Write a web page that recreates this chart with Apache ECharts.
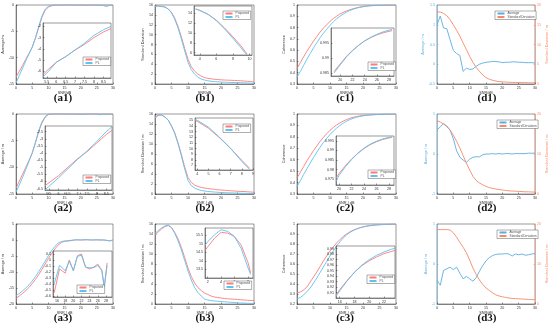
<!DOCTYPE html>
<html><head><meta charset="utf-8">
<script src="https://cdn.jsdelivr.net/npm/echarts@6/dist/echarts.min.js"></script>
<style>html,body{margin:0;padding:0;background:#fff}#c{width:550px;height:331px}</style>
</head><body><div id="c"></div>
<script>
// ---------- DATA ----------
const snr = [0,1,2,3,4,5,6,7,8,9,10,11,12,13,14,15,16,17,18,19,20,21,22,23,24,25,26,27,28,29,30];
const seriesNames = ['Proposed', 'PL'];
const dNames = ['Average', 'Standard Deviation'];

// (a1)
const a1Red  = [-13.7,-12.6,-11.5,-10.3,-9.2,-8.0,-6.3,-4.3,-2.3,-1.0,-0.4,-0.15,0,0.05,0,0.05,0.02,0,0.03,0.02,0.05,0,-0.05,0.03,0,0.02,0,-0.05,0.02,0,0];
const a1Blue = [-14.8,-13.4,-12.0,-10.6,-9.3,-8.0,-6.2,-4.1,-2.1,-0.8,-0.25,0,0.03,-0.02,0.05,0,0.03,0.05,0,0.02,-0.03,0.05,0.02,0,0.04,0,-0.02,-0.1,-0.3,-0.05,0];
const a1InX   = [5.3,5.6,6.0,6.5,7.0,7.5,8.0,8.5,8.9];
const a1InRed = [-6.3,-5.8,-5.2,-4.7,-4.1,-3.6,-3.0,-2.5,-2.2];
const a1InBlue= [-6.5,-6.0,-5.2,-4.7,-4.1,-3.5,-2.8,-2.3,-2.0];
// (b1)
const b1Red  = [15.8,15.8,15.7,15.6,15.2,14.5,13.3,11.6,9.5,7.2,5.0,3.5,2.6,2.0,1.6,1.3,1.15,1.05,0.95,0.9,0.85,0.8,0.78,0.75,0.72,0.7,0.65,0.6,0.55,0.5,0.4];
const b1Blue = [15.7,15.8,15.7,15.6,15.2,14.4,13.1,11.3,9.1,6.7,4.4,2.9,2.0,1.4,1.0,0.8,0.65,0.55,0.5,0.45,0.4,0.35,0.35,0.3,0.3,0.28,0.25,0.22,0.2,0.15,0.1];
const b1InX   = [3.5,4,5,6,7,8,9,9.7];
const b1InRed = [14.9,14.6,13.8,12.6,11.0,9.2,7.3,5.7];
const b1InBlue= [14.9,14.6,13.8,12.5,10.8,8.9,6.9,5.5];
// (c1)
const c1Red  = [0.435,0.49,0.54,0.59,0.635,0.68,0.72,0.76,0.795,0.825,0.855,0.88,0.9,0.92,0.935,0.947,0.958,0.967,0.975,0.981,0.986,0.99,0.993,0.995,0.996,0.997,0.998,0.998,0.999,0.999,0.999];
const c1Blue = [0.36,0.41,0.465,0.52,0.57,0.62,0.665,0.71,0.75,0.785,0.82,0.85,0.878,0.9,0.92,0.937,0.951,0.962,0.971,0.979,0.985,0.99,0.993,0.995,0.997,0.998,0.999,0.999,1,1,1];
const c1InX   = [19,20,21,22,23,24,25,26,27,28,28.5];
const c1InRed = [0.9855,0.988,0.9905,0.9925,0.9942,0.9957,0.9968,0.9977,0.9984,0.9989,0.9991];
const c1InBlue= [0.985,0.9877,0.9903,0.9924,0.9942,0.9957,0.9969,0.9979,0.9987,0.9993,0.9995];
// (d1)
const d1Avg = [1.0,1.22,0.92,0.9,0.62,0.35,0.27,0.22,-0.18,-0.1,-0.13,-0.12,-0.05,0.0,0.03,0.05,0.06,0.07,0.07,0.06,0.04,0.05,0.05,0.06,0.06,0.05,0.05,0.04,0.04,0.04,0.03];
const d1Std = [18.3,18.2,17.9,17.3,16.3,15,13.6,12.1,10.4,8.7,7.0,5.5,4.2,3.2,2.3,1.6,1.2,0.95,0.75,0.6,0.55,0.5,0.45,0.4,0.4,0.38,0.35,0.35,0.32,0.3,0.3];
// (a2)
const a2Red  = [-13.9,-12.6,-11.3,-10.0,-8.7,-7.3,-5.4,-3.3,-1.7,-0.6,-0.1,0,0.05,0.02,0,0.03,0,0.02,0.03,0,0.02,0,0.03,0.02,0,0.02,0.03,0,0.02,0,0.02];
const a2Blue = [-14.6,-13.3,-11.9,-10.4,-8.9,-7.3,-5.3,-3.1,-1.5,-0.5,0,0.05,0,0.03,0.05,0,0.03,0,0.05,0,-0.1,0,0.03,0,0.05,0,-0.15,0.03,0,0.02,0];
const a2InX   = [5.3,5.5,6,6.5,7,7.5,8,8.5,8.8];
const a2InRed = [-6.3,-6.1,-5.6,-5.0,-4.4,-3.9,-3.3,-2.7,-2.4];
const a2InBlue= [-6.6,-6.35,-5.75,-5.1,-4.45,-3.85,-3.2,-2.5,-2.15];
// (b2)
const b2Red  = [15.4,15.8,15.8,15.4,14.8,13.6,12.2,10.2,7.9,5.4,3.3,2.3,1.8,1.5,1.3,1.2,1.1,1.0,0.95,0.85,0.8,0.75,0.7,0.65,0.6,0.55,0.5,0.5,0.45,0.4,0.35];
const b2Blue = [15.2,15.7,15.8,15.4,14.8,13.6,12.1,10.0,7.6,5.0,2.7,1.7,1.2,0.9,0.7,0.6,0.5,0.45,0.4,0.35,0.3,0.28,0.25,0.22,0.2,0.18,0.15,0.13,0.12,0.1,0.1];
const b2InX   = [3.8,4,5,6,7,8,8.7];
const b2InRed = [15.0,14.8,13.6,11.9,10.0,7.9,6.5];
const b2InBlue= [15.2,15.0,13.8,12.0,10.0,7.7,6.3];
// (c2)
const c2Red  = [0.44,0.49,0.54,0.59,0.635,0.68,0.72,0.76,0.795,0.828,0.857,0.882,0.904,0.922,0.938,0.951,0.962,0.971,0.978,0.983,0.987,0.99,0.992,0.994,0.995,0.996,0.997,0.998,0.998,0.999,0.999];
const c2Blue = [0.365,0.415,0.47,0.52,0.57,0.62,0.665,0.71,0.75,0.787,0.82,0.85,0.876,0.9,0.92,0.937,0.951,0.962,0.971,0.978,0.984,0.988,0.991,0.993,0.995,0.996,0.997,0.998,0.998,0.999,0.999];
const c2InX   = [19.5,20,21,22,23,24,25,26,27,28,28.5];
const c2InRed = [0.9755,0.978,0.982,0.9855,0.9885,0.991,0.993,0.9945,0.9957,0.9965,0.9968];
const c2InBlue= [0.974,0.977,0.9815,0.9852,0.9885,0.9912,0.9933,0.9948,0.996,0.9968,0.9971];
// (d2)
const d2Avg = [0.6,0.68,0.76,0.7,0.6,0.38,0.08,-0.08,-0.15,-0.21,-0.13,-0.08,-0.07,-0.07,-0.02,0,0,0.01,0,0.01,0,0.01,0.01,0,0.01,0.01,0.01,0.01,0.02,0.02,0.02];
const d2Std = [18.3,18.0,17.5,16.8,16.0,14.7,13.2,11.5,9.6,7.75,6.0,4.4,3.4,2.75,2.3,1.9,1.6,1.4,1.25,1.1,1.0,0.9,0.8,0.75,0.7,0.65,0.6,0.55,0.55,0.5,0.5];
// (a3)
const a3Red  = [-18.2,-17.5,-16.7,-15.8,-14.8,-13.6,-12.3,-10.8,-9.2,-7.5,-5.8,-4.2,-2.8,-1.6,-0.8,-0.4,-0.35,-0.2,0,0.05,0,0.05,0.08,0.03,0,0.05,0.02,0,-0.1,-0.3,0];
const a3Blue = [-17.4,-16.7,-15.9,-15.0,-14.0,-12.8,-11.4,-9.9,-8.3,-6.6,-4.9,-3.3,-2.0,-1.0,-0.5,-0.3,-0.2,-0.1,0,0.05,0.02,0.06,0.08,0,0.03,0.05,0,0.02,-0.1,-0.25,0];
const a3InX   = [15.3,16.6,18,19,20,21,22,23,24,25,26,27,27.6,28.3];
const a3InRed = [-0.55,-0.15,-0.22,0,-0.18,0.07,0.1,-0.12,-0.15,-0.12,-0.07,-0.17,-0.45,-0.05];
const a3InBlue= [-0.4,-0.09,-0.18,-0.02,-0.18,0.06,0.08,-0.12,-0.13,-0.13,-0.09,-0.18,-0.46,-0.09];
// (b3)
const b3Red  = [13.8,14.4,15.0,15.5,15.7,15.3,14.3,13.0,11.3,9.3,7.2,5.5,4.2,3.3,2.7,2.2,1.9,1.6,1.4,1.3,1.2,1.1,1.05,1.0,0.95,0.9,0.85,0.8,0.75,0.7,0.7];
const b3Blue = [14.1,14.7,15.2,15.6,15.8,15.3,14.1,12.6,10.8,8.7,6.6,4.8,3.3,2.3,1.6,1.0,0.8,0.7,0.6,0.55,0.5,0.45,0.4,0.35,0.3,0.25,0.2,0.18,0.15,0.12,0.1];
const b3InX   = [1.6,2,3,4,5,6,7,8,8.4];
const b3InRed = [14.6,14.8,15.3,15.65,15.6,15.4,14.9,13.9,13.3];
const b3InBlue= [14.9,15.1,15.5,15.8,15.7,15.4,14.7,13.6,13.2];
// (c3)
const c3Red  = [0.31,0.32,0.34,0.37,0.42,0.47,0.52,0.575,0.63,0.68,0.73,0.77,0.81,0.845,0.875,0.9,0.92,0.937,0.95,0.961,0.97,0.977,0.982,0.986,0.989,0.992,0.994,0.995,0.996,0.997,0.998];
const c3Blue = [0.25,0.265,0.29,0.325,0.36,0.41,0.46,0.515,0.57,0.625,0.68,0.73,0.78,0.82,0.86,0.89,0.915,0.935,0.95,0.962,0.972,0.979,0.985,0.989,0.992,0.994,0.996,0.997,0.998,0.999,0.999];
const c3InX   = [15.5,16,17,18,19,20,21,22,23,23.5];
const c3InRed = [0.905,0.915,0.932,0.947,0.959,0.968,0.975,0.981,0.985,0.987];
const c3InBlue= [0.903,0.913,0.931,0.947,0.96,0.97,0.978,0.984,0.989,0.991];
// (d3)
const d3Avg = [-0.41,-0.53,-0.16,-0.12,-0.08,-0.14,-0.08,-0.23,-0.37,-0.31,-0.37,-0.43,-0.34,-0.18,-0.04,0.08,0.16,0.21,0.24,0.25,0.25,0.26,0.25,0.2,0.25,0.23,0.25,0.22,0.23,0.25,0.26];
const d3Std = [18.6,18.6,18.6,18.6,18.5,17.8,16.7,15.4,14.2,12.8,11.0,9.0,7.4,6.0,4.9,4.0,3.4,2.8,2.3,2.0,1.8,1.65,1.5,1.4,1.35,1.3,1.25,1.2,1.15,1.1,1.1];

// tick labels
const snrTicks = [0,5,10,15,20,25,30];
const aTicks1 = [-15,-10,-5,0];
const aTicks3 = [-20,-15,-10,-5,0,5];
const bTicks = [0,2,4,6,8,10,12,14,16];
const cTicks12 = [0.3,0.4,0.5,0.6,0.7,0.8,0.9,1];
const cTicks3 = [0.2,0.3,0.4,0.5,0.6,0.7,0.8,0.9,1];
const d1LTicks = [-0.5,0,0.5,1,1.5];
const dLTicks = [-1,0,1];
const dRTicks = [0,5,10,15,20];
const dRTicks23 = [0,10,20];
const a1InXT = [5.5,6,6.5,7,7.5,8,8.5], a1InYT = [-6,-5,-4,-3,-2];
const b1InXT = [4,6,8,10], b1InYT = [6,8,10,12,14];
const c1InXT = [20,22,24,26,28], c1InYT = [0.985,0.99,0.995];
const a2InXT = [5.5,6,6.5,7,7.5,8,8.5], a2InYT = [-6.5,-6,-5.5,-5,-4.5,-4,-3.5,-3,-2.5];
const b2InXT = [4,5,6,7,8,9], b2InYT = [7,8,9,10,11,12,13,14,15];
const c2InXT = [20,22,24,26,28], c2InYT = [0.975,0.98,0.985,0.99,0.995];
const a3InXT = [16,18,20,22,24,26,28], a3InYT = [-0.6,-0.5,-0.4,-0.3,-0.2,-0.1,0,0.1];
const b3InXT = [2,4,6,8], b3InYT = [13.5,14,14.5,15,15.5];
const c3InXT = [16,18,20,22], c3InYT = [0.91,0.92,0.93,0.94,0.95,0.96,0.97,0.98,0.99];

// ---------- BUILD ----------
const RED = '#FF7A7A', BLUE = '#5AC4F2', DBLUE = '#5AAEE0', DORANGE = '#F58A66';
const FS = 3.6, FONT = 'Liberation Sans', AX = '#333';
const grids = [], xAxes = [], yAxes = [], series = [], legends = [], titles = [];

function addGrid(r, z) {
  grids.push({left: r[0], top: r[1], width: r[2] - r[0], height: r[3] - r[1], show: true,
    borderColor: AX, borderWidth: 0.5, backgroundColor: '#fff', z: z});
  return grids.length - 1;
}
function axis(gi, min, max, ticks, z, extra) {
  const col = (extra && extra.color) || AX;
  const a = {type: 'value', gridIndex: gi, min: min, max: max, z: z,
    axisLine: {show: true, onZero: false, lineStyle: {color: col, width: 0.5}},
    axisTick: {show: true, inside: true, length: 1.5, customValues: ticks, lineStyle: {color: col, width: 0.5}},
    axisLabel: {customValues: ticks, fontSize: FS, color: col, margin: 2, fontFamily: FONT},
    splitLine: {show: false}, nameLocation: 'middle',
    nameTextStyle: {fontSize: 3.8, color: col, fontFamily: FONT}};
  return Object.assign(a, extra || {});
}
function line(xi, yi, xs, ys, color, name, z) {
  series.push({type: 'line', name: name, xAxisIndex: xi, yAxisIndex: yi,
    data: xs.map((x, i) => [x, ys[i]]), symbol: 'none', showSymbol: false,
    lineStyle: {color: color, width: 0.9}, itemStyle: {color: color}, z: z, silent: true});
}
function legend(left, top, names, colors) {
  legends.push({left: left, top: top, orient: 'vertical', itemWidth: 7, itemHeight: 2, itemGap: 0.5,
    padding: [1, 1.5], borderColor: AX, borderWidth: 0.4, backgroundColor: '#fff', z: 20,
    selectedMode: false, data: names.map((n, i) => ({name: n, itemStyle: {color: colors[i]}, lineStyle: {color: colors[i]}})),
    textStyle: {fontSize: 3.2, fontFamily: FONT, padding: [0, 0, 0, -2]}});
}
function mainPanel(rect, yMin, yMax, yTicks, xName, yName, yGap, red, blue) {
  const gi = addGrid(rect, 0);
  xAxes.push(axis(gi, 0, 30, snrTicks, 1, {name: xName, nameGap: 5}));
  yAxes.push(axis(gi, yMin, yMax, yTicks, 1, {name: yName, nameGap: yGap}));
  const xi = xAxes.length - 1, yi = yAxes.length - 1;
  line(xi, yi, snr, red, RED, seriesNames[0], 2);
  line(xi, yi, snr, blue, BLUE, seriesNames[1], 2);
}
function inset(rect, xr, xt, yr, yt, xs, red, blue) {
  const gi = addGrid(rect, 4);
  xAxes.push(axis(gi, xr[0], xr[1], xt, 5));
  yAxes.push(axis(gi, yr[0], yr[1], yt, 5));
  const xi = xAxes.length - 1, yi = yAxes.length - 1;
  line(xi, yi, xs, red, RED, seriesNames[0], 6);
  line(xi, yi, xs, blue, BLUE, seriesNames[1], 6);
}
function dPanel(rect, xName, lr, lt, rr, rt, avg, std) {
  const gi = addGrid(rect, 0);
  xAxes.push(axis(gi, 0, 30, snrTicks, 1, {name: xName, nameGap: 5}));
  const xi = xAxes.length - 1;
  yAxes.push(axis(gi, lr[0], lr[1], lt, 1, {name: 'Average / m', nameGap: 8, color: DBLUE, position: 'left'}));
  const yl = yAxes.length - 1;
  yAxes.push(axis(gi, rr[0], rr[1], rt, 1, {name: 'Standard Deviation / m', nameGap: 7, color: DORANGE, position: 'right'}));
  const yr = yAxes.length - 1;
  line(xi, yl, snr, avg, DBLUE, dNames[0], 2);
  line(xi, yr, snr, std, DORANGE, dNames[1], 2);
}
function label(text, cx, top) {
  titles.push({text: text, left: cx, top: top, textAlign: 'center', padding: 0,
    textStyle: {fontSize: 11, fontWeight: 'bold', fontFamily: 'Liberation Serif', color: '#111'}});
}

const colA = [13, 113], colB = [155, 254], colC = [297, 396], colD = [437, 535];
const row1 = [5, 84], row2 = [114, 194], row3 = [224, 304];
const R = (c, r) => [c[0], r[0], c[1], r[1]];

// Row 1
mainPanel(R(colA, row1), -15, 0, aTicks1, 'SNR/dB', 'Average/m', 8, a1Red, a1Blue);
inset([43, 23, 111, 78], [5.3, 8.9], a1InXT, [-6.6, -1.7], a1InYT, a1InX, a1InRed, a1InBlue);
legend(83, 57, seriesNames, [RED, BLUE]);
mainPanel(R(colB, row1), 0, 16, bTicks, 'SNR/dB', 'Standard Deviation', 7, b1Red, b1Blue);
inset([194, 6, 252, 55], [3.3, 10.3], b1InXT, [5.5, 15.5], b1InYT, b1InX, b1InRed, b1InBlue);
legend(223, 11, seriesNames, [RED, BLUE]);
mainPanel(R(colC, row1), 0.3, 1, cTicks12, 'SNR/dB', 'Coherence', 9, c1Red, c1Blue);
inset([331, 28, 394, 76], [18.5, 28.8], c1InXT, [0.984, 1.0], c1InYT, c1InX, c1InRed, c1InBlue);
legend(368, 62, seriesNames, [RED, BLUE]);
dPanel(R(colD, row1), 'SNR/dB', [-0.5, 1.5], d1LTicks, [0, 20], dRTicks, d1Avg, d1Std);
legend(495, 11, dNames, [DBLUE, DORANGE]);

// Row 2
mainPanel(R(colA, row2), -15, 0, aTicks1, 'SNR / dB', 'Average / m', 8, a2Red, a2Blue);
inset([45, 126, 112, 190], [5.3, 8.8], a2InXT, [-6.6, -2.1], a2InYT, a2InX, a2InRed, a2InBlue);
legend(83, 175, seriesNames, [RED, BLUE]);
mainPanel(R(colB, row2), 0, 16, bTicks, 'SNR / dB', 'Standard Deviation / m', 7, b2Red, b2Blue);
inset([195, 118, 253, 170], [3.8, 9.0], b2InXT, [6.2, 15.4], b2InYT, b2InX, b2InRed, b2InBlue);
legend(223, 124, seriesNames, [RED, BLUE]);
mainPanel(R(colC, row2), 0.3, 1, cTicks12, 'SNR / dB', 'Coherence', 9, c2Red, c2Blue);
inset([336, 136, 394, 185], [19.5, 28.8], c2InXT, [0.972, 0.9975], c2InYT, c2InX, c2InRed, c2InBlue);
legend(368, 170, seriesNames, [RED, BLUE]);
dPanel(R(colD, row2), 'SNR/dB', [-1, 1], dLTicks, [0, 20], dRTicks23, d2Avg, d2Std);
legend(497, 120, dNames, [DBLUE, DORANGE]);

// Row 3
mainPanel(R(colA, row3), -20, 5, aTicks3, 'SNR / dB', 'Average / m', 8, a3Red, a3Blue);
inset([53, 251, 112, 297], [15, 29.5], a3InXT, [-0.62, 0.15], a3InYT, a3InX, a3InRed, a3InBlue);
legend(77, 285, seriesNames, [RED, BLUE]);
mainPanel(R(colB, row3), 0, 16, bTicks, 'SNR / dB', 'Standard Deviation / m', 7, b3Red, b3Blue);
inset([205, 228, 253, 278], [1.6, 8.75], b3InXT, [13.0, 15.9], b3InYT, b3InX, b3InRed, b3InBlue);
legend(224, 281, seriesNames, [RED, BLUE]);
mainPanel(R(colC, row3), 0.2, 1, cTicks3, 'SNR / dB', 'Coherence', 9, c3Red, c3Blue);
inset([336, 246, 395, 298], [15.5, 23.5], c3InXT, [0.9, 0.995], c3InYT, c3InX, c3InRed, c3InBlue);
legend(367, 275, seriesNames, [RED, BLUE]);
dPanel(R(colD, row3), 'SNR/dB', [-1, 1], dLTicks, [0, 20], dRTicks23, d3Avg, d3Std);
legend(497, 230, dNames, [DBLUE, DORANGE]);

// Panel labels
label('(a1)', 63, 93); label('(b1)', 205, 93); label('(c1)', 345, 93); label('(d1)', 487, 93);
label('(a2)', 63, 203); label('(b2)', 205, 203); label('(c2)', 345, 203); label('(d2)', 487, 203);
label('(a3)', 63, 313); label('(b3)', 205, 313); label('(c3)', 345, 313); label('(d3)', 487, 313);

const chart = echarts.init(document.getElementById('c'), null, {renderer: 'canvas'});
chart.setOption({animation: false, backgroundColor: '#fff', title: titles, grid: grids,
  xAxis: xAxes, yAxis: yAxes, series: series, legend: legends, tooltip: {show: false}});
</script></body></html>
